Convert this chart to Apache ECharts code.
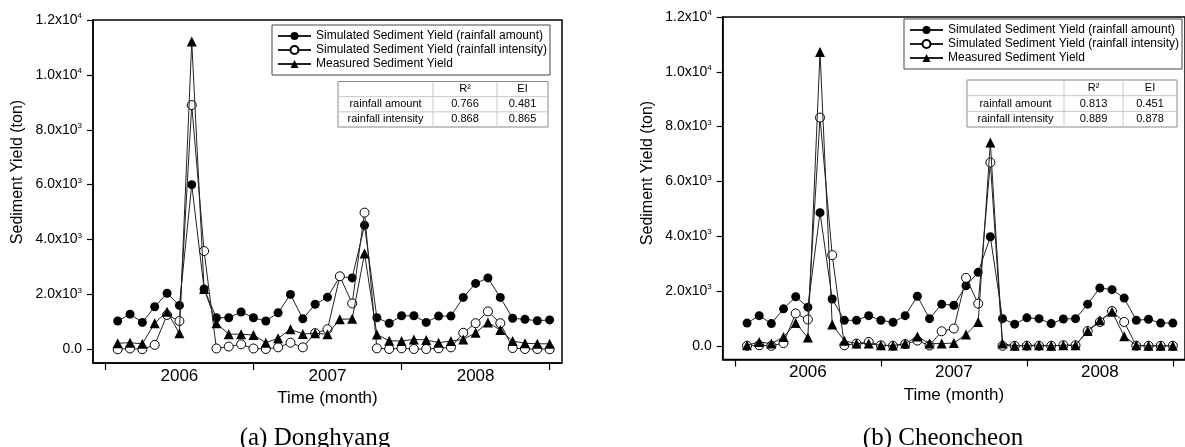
<!DOCTYPE html>
<html><head><meta charset="utf-8">
<script src="https://cdn.jsdelivr.net/npm/echarts@6/dist/echarts.min.js"></script>
<style>html,body{margin:0;padding:0;background:#fff}#c{width:1185px;height:447px}</style>
</head><body><div id="c"></div>
<script>
// ---- data ----
const months = [1,2,3,4,5,6,7,8,9,10,11,12,13,14,15,16,17,18,19,20,21,22,23,24,25,26,27,28,29,30,31,32,33,34,35,36];
const yearTicks = [0, 12, 24, 36];
const yearLabelPos = [6, 18, 30];
const yearLabels = ['2006', '2007', '2008'];
const yTicks = [0, 2000, 4000, 6000, 8000, 10000, 12000];
const yTickMantissa = ['0.0', '2.0', '4.0', '6.0', '8.0', '1.0', '1.2'];
const yTickExp = ['', '3', '3', '3', '3', '4', '4'];
const seriesNames = ['Simulated Sediment Yield (rainfall amount)', 'Simulated Sediment Yield (rainfall intensity)', 'Measured Sediment Yield'];

// (a) Donghyang
const amountA = [1030,1280,980,1550,2040,1600,6000,2200,1150,1150,1360,1150,1030,1330,2000,1110,1640,1900,2650,2600,4520,1150,950,1220,1220,980,1210,1210,1890,2400,2600,1890,1130,1090,1040,1070];
const intensityA = [0,30,0,160,1250,1030,8900,3580,30,100,180,30,10,70,240,70,590,730,2660,1670,4980,35,10,35,10,10,35,70,600,950,1380,950,45,10,10,0];
const measuredA = [220,240,200,950,1370,580,11220,2200,950,550,550,520,240,400,730,560,580,550,1090,1110,3490,540,310,300,360,340,240,300,360,600,980,700,300,220,200,200];
// (b) Cheoncheon
const amountB = [830,1100,810,1350,1790,1410,4860,1710,930,930,1100,930,860,1100,1810,990,1520,1480,2190,2680,3980,990,790,1020,990,810,980,990,1520,2110,2050,1740,930,970,830,830];
const intensityB = [0,20,0,100,1180,960,8330,3310,20,80,140,20,0,60,190,10,530,630,2480,1540,6690,0,0,0,0,0,20,20,540,870,1270,870,0,0,0,0];
const measuredB = [20,140,80,320,830,300,10720,780,180,80,80,20,10,80,340,80,80,100,410,870,7420,80,0,20,20,0,20,20,540,930,1240,350,20,0,0,0];

// stats tables
const tableCols = ['R\u00B2', 'EI'];
const tableRows = ['rainfall amount', 'rainfall intensity'];
const statsA = [[0.766, 0.481], [0.868, 0.865]];
const statsB = [[0.813, 0.451], [0.889, 0.878]];
const captions = ['(a) Donghyang', '(b) Cheoncheon'];

// ---- chart ----
const FONT = '"Liberation Sans", Arial, sans-serif';
const pairs = vals => months.map((m, i) => [m, vals[i]]);

function mkSeries(idx, vals, kind) {
  const base = {
    name: seriesNames[kind], type: 'line', xAxisIndex: idx, yAxisIndex: idx,
    data: pairs(vals), animation: false, z: 2 + kind,
    lineStyle: { color: '#222', width: 1 }, emphasis: { disabled: true }
  };
  if (kind === 0) Object.assign(base, { symbol: 'circle', symbolSize: 9, itemStyle: { color: '#000' } });
  if (kind === 1) Object.assign(base, { symbol: 'circle', symbolSize: 9, itemStyle: { color: '#fff', borderColor: '#000', borderWidth: 1 } });
  if (kind === 2) Object.assign(base, { symbol: 'triangle', symbolSize: 10, itemStyle: { color: '#000' } });
  return base;
}

function mkX(idx) {
  return {
    type: 'value', gridIndex: idx, min: -1, max: 37,
    axisLine: { onZero: false, lineStyle: { color: '#000', width: 1.5 } },
    axisTick: { customValues: yearTicks, length: 7, lineStyle: { color: '#000', width: 1.2 } },
    axisLabel: { customValues: yearLabelPos, formatter: v => yearLabels[yearLabelPos.indexOf(v)] || '',
      fontSize: 17, color: '#000', margin: 4.5, fontFamily: FONT },
    splitLine: { show: false },
    name: 'Time (month)', nameLocation: 'middle', nameGap: 27,
    nameTextStyle: { fontSize: 17, color: '#000', fontFamily: FONT }
  };
}
function mkY(idx) {
  return {
    type: 'value', gridIndex: idx, min: -500, max: 12000,
    axisLine: { show: true, onZero: false, lineStyle: { color: '#000', width: 1.5 } },
    axisTick: { show: true, customValues: yTicks, length: 6, lineStyle: { color: '#000', width: 1.2 } },
    axisLabel: {
      customValues: yTicks, margin: 11,
      formatter: v => { const i = yTicks.indexOf(v); if (i < 0) return ''; return yTickExp[i] ? '{m|' + yTickMantissa[i] + 'x10}{e|' + yTickExp[i] + '}' : '{m|' + yTickMantissa[i] + '}'; },
      rich: {
        m: { fontSize: 14, lineHeight: 16, color: '#000', fontFamily: FONT },
        e: { fontSize: 8, lineHeight: 10, verticalAlign: 'top', color: '#000', fontFamily: FONT }
      }
    },
    splitLine: { show: false }
  };
}
function mkLegend(left, top) {
  return {
    data: seriesNames, orient: 'vertical', left: left, top: top, selectedMode: false,
    padding: [4, 3, 4, 5], itemGap: 0, itemWidth: 33, itemHeight: 10,
    textStyle: { fontSize: 12, lineHeight: 14, color: '#000', fontFamily: FONT },
    borderColor: '#444', borderWidth: 1, backgroundColor: '#fff', z: 10
  };
}
function mkTable(x0, y0, x1, x2, x3, y3, stats) {
  const els = [];
  const rh = (y3 - y0) / 3;
  els.push({ type: 'rect', shape: { x: x0, y: y0, width: x3 - x0, height: y3 - y0 }, style: { fill: '#fff', stroke: '#888', lineWidth: 1 }, z: 20 });
  [y0 + rh, y0 + 2 * rh].forEach(y => els.push({ type: 'line', shape: { x1: x0, y1: y, x2: x3, y2: y }, style: { stroke: '#c8c8c8', lineWidth: 1 }, z: 21 }));
  [x1, x2].forEach(x => els.push({ type: 'line', shape: { x1: x, y1: y0, x2: x, y2: y3 }, style: { stroke: '#c8c8c8', lineWidth: 1 }, z: 21 }));
  const cx = [(x0 + x1) / 2, (x1 + x2) / 2, (x2 + x3) / 2];
  const txt = (t, x, y) => ({ type: 'text', x: x, y: y, z: 22, style: { text: t, fontSize: 11, fontFamily: FONT, fill: '#000', align: 'center', verticalAlign: 'middle' } });
  tableCols.forEach((c, j) => els.push(txt(c, cx[j + 1], y0 + rh / 2)));
  tableRows.forEach((r, i) => {
    els.push(txt(r, cx[0], y0 + rh * (i + 1.5)));
    stats[i].forEach((v, j) => els.push(txt(v.toFixed(3), cx[j + 1], y0 + rh * (i + 1.5))));
  });
  return els;
}
const yName = (x, y) => ({ type: 'text', x: x, y: y, rotation: Math.PI / 2, z: 5,
  style: { text: 'Sediment Yield (ton)', fontSize: 16, fontFamily: FONT, fill: '#000', align: 'center', verticalAlign: 'middle' } });
const caption = (t, x, y) => ({ type: 'text', x: x, y: y, z: 5,
  style: { text: t, fontSize: 25, fontFamily: '"Liberation Serif", "Times New Roman", serif', fill: '#000', align: 'center', verticalAlign: 'middle' } });

const option = {
  animation: false,
  textStyle: { fontFamily: FONT },
  grid: [
    { left: 93, top: 20, width: 469, height: 343, show: true, borderColor: '#000', borderWidth: 1.5, backgroundColor: 'transparent' },
    { left: 722.7, top: 17, width: 466.8, height: 342.5, show: true, borderColor: '#000', borderWidth: 1.5, backgroundColor: 'transparent' }
  ],
  xAxis: [mkX(0), mkX(1)],
  yAxis: [mkY(0), mkY(1)],
  legend: [mkLegend(272, 25), mkLegend(904, 19)],
  series: [
    mkSeries(0, amountA, 0), mkSeries(0, intensityA, 1), mkSeries(0, measuredA, 2),
    mkSeries(1, amountB, 0), mkSeries(1, intensityB, 1), mkSeries(1, measuredB, 2)
  ],
  graphic: [].concat(
    mkTable(338, 81.5, 433, 497, 548, 127, statsA),
    mkTable(967, 80, 1064, 1123, 1177, 127, statsB),
    [yName(17.5, 172), yName(647.5, 173), caption(captions[0], 315, 438), caption(captions[1], 943, 438)]
  )
};
const chart = echarts.init(document.getElementById('c'), null, { renderer: 'canvas' });
chart.setOption(option);
</script>
</body></html>
